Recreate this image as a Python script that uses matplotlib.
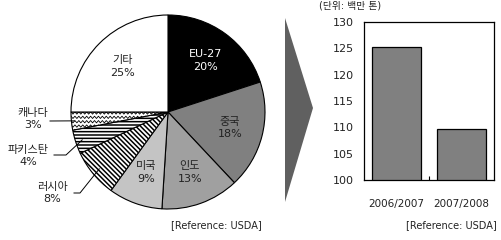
import numpy as np
import matplotlib
matplotlib.use("Agg")
import matplotlib.pyplot as plt
from matplotlib.patches import Polygon

plt.rcParams['font.family'] = ['DejaVu Sans', 'Noto Sans CJK KR']
plt.rcParams['hatch.linewidth'] = 1.1

# ---- data ----
pie_labels = ['EU-27', '중국', '인도', '미국', '러시아', '파키스탄', '캐나다', '기타']
pie_values = [20, 18, 13, 9, 8, 4, 3, 25]
pie_colors = ['#000000', '#808080', '#a0a0a0', '#c4c4c4', 'white', 'white', 'white', 'white']
pie_hatch = [None, None, None, None, '\\' * 7, '-' * 5, None, None]
outside = ['러시아', '파키스탄', '캐나다']

bar_cats = ['2006/2007', '2007/2008']
bar_vals = [125.2, 109.7]
y_ticks = [100, 105, 110, 115, 120, 125, 130]
unit_label = '(단위: 백만 톤)'
ref_label = '[Reference: USDA]'

W, H = 502, 240
fig = plt.figure(figsize=(W / 100, H / 100), dpi=100)
TC = '#222222'

# ---- pie ----
cx, cy, R = 168, 112, 97
axp = fig.add_axes([(cx - R) / W, 1 - (cy + R) / H, 2 * R / W, 2 * R / H])
wedges, _ = axp.pie(pie_values, colors=pie_colors, startangle=90, counterclock=False,
                    wedgeprops=dict(edgecolor='black', linewidth=0.8))
axp.set_xlim(-1, 1)
axp.set_ylim(-1, 1)
axp.set_aspect('equal')
axp.axis('off')

total = sum(pie_values)
cum = 0
for i, (w, lab, v) in enumerate(zip(wedges, pie_labels, pie_values)):
    if pie_hatch[i]:
        w.set_hatch(pie_hatch[i])
    mid = np.deg2rad(90 - (cum + v / 2) / total * 360)
    cum += v
    if lab in outside:
        continue
    d = 0.66
    axp.text(d * np.cos(mid), d * np.sin(mid), f'{lab}\n{v}%', ha='center', va='center',
             fontsize=8, linespacing=1.35,
             color='white' if pie_colors[i] == '#000000' else TC)

# zigzag fill for Canada slice
can = wedges[pie_labels.index('캐나다')]
n = 100
xs = np.linspace(-1, 1, n)
sgn = np.where((np.arange(n) % 2) == 0, 1, -1)
for yy in np.arange(-1, 1, 0.045):
    ln, = axp.plot(xs, yy + 0.012 * sgn, color='black', lw=0.6)
    ln.set_clip_path(can)

# outside labels with leader lines
def wedge_point(name, frac_along, r):
    idx = pie_labels.index(name)
    start = sum(pie_values[:idx])
    a = np.deg2rad(90 - (start + pie_values[idx] * frac_along) / total * 360)
    return r * np.cos(a), r * np.sin(a)

def px(x, y):
    return ((x - cx) / R, (cy - y) / R)

p = wedge_point('캐나다', 0.5, 0.97)
axp.plot([px(50, 121)[0], p[0]], [px(50, 121)[1], p[1]], color='black', lw=0.7, clip_on=False)
axp.text(*px(33, 119), '캐나다\n3%', ha='center', va='center', fontsize=8, linespacing=1.35, color=TC)

p = wedge_point('파키스탄', 0.5, 0.93)
a1, a2 = px(54, 155), px(66, 155)
axp.plot([a1[0], a2[0], p[0]], [a1[1], a2[1], p[1]], color='black', lw=0.7, clip_on=False)
axp.text(*px(28, 156), '파키스탄\n4%', ha='center', va='center', fontsize=8, linespacing=1.35, color=TC)

p = wedge_point('러시아', 0.5, 0.92)
a1, a2 = px(74, 193), px(80, 193)
axp.plot([a1[0], a2[0], p[0]], [a1[1], a2[1], p[1]], color='black', lw=0.7, clip_on=False)
axp.text(*px(52, 193), '러시아\n8%', ha='center', va='center', fontsize=8, linespacing=1.35, color=TC)

fig.text(262 / W, 1 - 225 / H, ref_label, ha='right', va='center', fontsize=7, color=TC)

# ---- arrow ----
arrow = Polygon([(285 / W, 1 - 18 / H), (313 / W, 1 - 108 / H), (285 / W, 1 - 202 / H)],
                closed=True, transform=fig.transFigure, facecolor='#606060', edgecolor='none')
fig.patches.append(arrow)

# ---- bar ----
axb = fig.add_axes([364 / W, 1 - 180 / H, 130 / W, 158 / H])
axb.bar(range(len(bar_cats)), bar_vals, width=0.74, color='#808080', edgecolor='black', linewidth=0.9)
axb.set_xlim(-0.5, len(bar_cats) - 0.5)
axb.set_ylim(y_ticks[0], y_ticks[-1])
axb.set_yticks(y_ticks)
axb.set_xticks(range(len(bar_cats)))
axb.set_xticklabels(bar_cats)
axb.tick_params(axis='y', length=0, pad=7, labelsize=8, labelcolor=TC)
axb.tick_params(axis='x', length=0, pad=14, labelsize=7.5, labelcolor=TC)
axb.set_xticks([0.5], minor=True)
axb.tick_params(axis='x', which='minor', direction='in', length=3, width=0.8)
for s in axb.spines.values():
    s.set_linewidth(0.9)
fig.text(350 / W, 1 - 6 / H, unit_label, ha='center', va='center', fontsize=7, color=TC)
fig.text(497 / W, 1 - 225 / H, ref_label, ha='right', va='center', fontsize=7, color=TC)

fig.savefig('out.png', dpi=100)
